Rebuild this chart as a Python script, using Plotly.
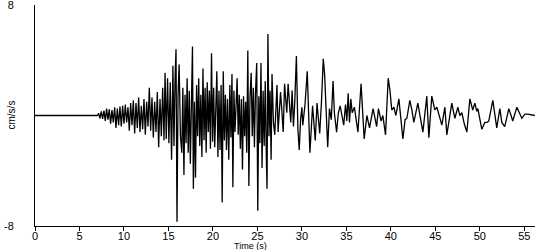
import plotly.graph_objects as go

# ---- data (time in s, acceleration in cm/s/s) ----
t_pre = [0, 7.0, 7.15, 7.3, 7.45, 7.6, 7.75, 7.9, 8.05, 8.2, 8.35, 8.5, 8.65, 8.8, 8.95, 9.1, 9.25, 9.4, 9.55, 9.7, 9.85, 10.0]
a_pre = [0, 0, 0.15, -0.2, 0.3, -0.25, 0.35, -0.4, 0.5, -0.3, 0.45, -0.6, 0.4, -0.5, 0.6, -0.9, 0.5, -0.7, 0.65, -0.8, 0.7, -0.6]

t_p = [10.15, 10.3, 10.45, 10.6, 10.75, 10.9, 11.05, 11.2, 11.35, 11.5, 11.65, 11.8, 11.95, 12.1, 12.25, 12.4, 12.55, 12.7, 12.85, 13.0]
a_p = [0.8, -0.5, 0.6, -1.1, 0.9, -0.7, 1.1, -1.3, 0.9, -0.9, 1.3, -1.2, 0.7, -1.0, 1.2, -1.4, 1.0, -0.8, 2.0, -1.1]

t_s1 = [13.15, 13.3, 13.45, 13.6, 13.75, 13.9, 14.05, 14.2, 14.35, 14.5, 14.62, 14.75, 14.9, 15.05, 15.2, 15.35, 15.5, 15.62, 15.74, 15.85, 15.96, 16.08, 16.2, 16.35, 16.5]
a_s1 = [1.3, -1.6, 1.0, -1.2, 1.7, -2.3, 1.2, -1.5, 2.0, -1.8, 3.1, -1.7, 2.7, -2.0, 2.4, -3.2, 3.6, -2.2, 2.6, 4.8, -7.7, 1.5, 3.7, -1.5, -2.7]

t_s2 = [16.62, 16.74, 16.86, 16.98, 17.1, 17.22, 17.34, 17.46, 17.58, 17.7, 17.8, 17.92, 18.04, 18.16, 18.28, 18.4, 18.52, 18.64, 18.76, 18.88,
        19.0, 19.12, 19.24, 19.36, 19.48, 19.6, 19.72, 19.84, 19.96, 20.08, 20.2, 20.32, 20.44, 20.56, 20.68, 20.8, 20.92, 21.04]
a_s2 = [2.0, -4.3, 1.5, -2.0, 2.7, -2.7, 1.8, -3.5, 3.0, 5.0, -5.3, 1.0, -4.5, 2.2, -1.5, 2.7, -2.2, 1.5, -3.0, 3.4,
        -1.8, 2.0, -2.7, 2.4, -1.2, 1.8, -2.4, 4.5, -1.9, 2.0, -2.3, 1.5, 3.2, -3.0, 1.8, -2.5, 2.2, -6.3]

t_s3 = [21.16, 21.28, 21.4, 21.52, 21.64, 21.78, 21.9, 22.02, 22.14, 22.24, 22.36, 22.48, 22.6, 22.72, 22.84, 22.96, 23.08, 23.2, 23.32, 23.44,
        23.56, 23.68, 23.8, 23.92, 24.04, 24.16, 24.3, 24.42, 24.54, 24.66, 24.78, 24.92, 25.04, 25.16, 25.28, 25.4, 25.52, 25.64, 25.76, 25.88,
        26.0, 26.08, 26.18, 26.3, 26.42, 26.54, 26.64]
a_s3 = [3.2, -1.8, 1.5, -2.5, 1.2, -3.2, 2.2, -1.6, 3.0, -5.2, 1.8, -1.2, 1.0, 2.7, -1.4, 1.5, -2.4, 1.2, -3.9, 1.4,
        -1.5, 1.0, -2.7, 4.7, -5.1, 1.2, 3.1, -1.5, 2.0, -2.3, 1.6, 3.8, -6.9, 1.4, -2.0, 3.8, -3.8, 1.8, -2.2, 2.5,
        -3.0, -5.3, 5.9, -1.5, 1.8, -3.2, 3.0]

t_s4 = [26.8, 26.95, 27.1, 27.2, 27.32, 27.45, 27.6, 27.75, 27.9, 28.05, 28.2, 28.3, 28.45, 28.6, 28.75, 28.9, 29.05, 29.2, 29.38, 29.55, 29.7, 29.85, 30.0]
a_s4 = [-0.5, -1.4, 0.8, 2.2, -1.2, 0.5, 1.7, 0.3, -1.2, 2.3, 0.8, 0.2, 2.3, 1.0, -0.5, 1.8, -0.8, 1.0, 4.3, -1.0, -2.5, -0.3, 0.6]

t_c1 = [30.1, 30.35, 30.6, 30.9, 31.2, 31.5, 31.7, 32.0, 32.2, 32.4, 32.55, 32.9, 33.1, 33.3, 33.5, 33.65, 33.9, 34.1, 34.3, 34.7,
        34.9, 35.05, 35.2, 35.35, 35.5, 35.65, 35.9, 36.3, 36.65, 37.0, 37.3, 37.6, 38.0, 38.4, 38.6, 38.9, 39.1, 39.4, 39.7, 39.9, 40.1]
a_c1 = [-0.7, 0.8, 3.2, -2.7, 0.7, -1.8, 0.9, -1.3, 1.0, 4.1, 3.0, -2.3, 0.5, -0.3, 2.5, 0.2, -1.2, 0.2, 0.7, -0.7,
        0.8, -0.4, 1.6, -0.5, 1.2, 0.2, 0.6, -1.2, 2.3, -1.7, 0.0, -0.9, 0.5, -0.8, 0.5, -0.4, 0.0, -1.4, 2.7, 1.8, 0.4]

t_c2 = [40.34, 40.56, 40.9, 41.35, 41.6, 41.8, 42.13, 42.36, 42.58, 43.03, 43.3, 43.6, 44.04, 44.27, 44.6, 44.94, 45.17, 45.45, 45.73, 46.07,
        46.29, 46.85, 47.19, 47.53, 47.75, 47.98, 48.25, 48.54, 48.88, 49.2, 49.44, 49.66, 49.78, 50.22, 50.56, 50.8, 51.0, 51.46, 51.9, 52.25,
        52.47, 52.8, 53.26, 53.7, 54.16, 54.72, 55.06, 55.39, 55.8, 56.18]
a_c2 = [0.6, 0.0, 1.2, -1.7, -0.3, -0.2, 1.1, 0.4, -0.5, 0.9, 0.0, -1.2, 1.4, -1.6, 1.4, 0.4, 0.6, 0.0, -0.7, 0.6,
        -1.4, 0.9, -0.2, 0.6, 0.0, 0.2, -0.6, -1.2, 1.2, 0.4, 0.9, 0.3, 0.5, -1.0, -0.5, -0.5, -0.4, 1.1, -0.9, 0.5,
        -0.5, -0.8, 0.5, -0.4, 0.6, -0.2, 0.1, 0.1, 0.05, 0.0]

x_ticks = [0, 5, 10, 15, 20, 25, 30, 35, 40, 45, 50, 55]
y_ticks = [8, -8]

segments = [(t_pre, a_pre), (t_p, a_p), (t_s1, a_s1), (t_s2, a_s2), (t_s3, a_s3),
            (t_s4, a_s4), (t_c1, a_c1), (t_c2, a_c2)]
time, acc = [], []
for ts, vs in segments:
    if len(ts) != len(vs):
        raise ValueError(f"length mismatch {len(ts)} vs {len(vs)} starting {ts[0]}")
    time += ts
    acc += vs

FONT = "Liberation Sans, Arial, sans-serif"

fig = go.Figure(go.Scatter(x=time, y=acc, mode="lines",
                           line=dict(color="black", width=1.3), hoverinfo="skip"))

fig.update_layout(
    width=550, height=250,
    margin=dict(l=35, r=15, t=5, b=24, autoexpand=False),
    paper_bgcolor="white", plot_bgcolor="white",
    showlegend=False,
    font=dict(family=FONT, size=11, color="black"),
    xaxis=dict(range=[0, 56.2], tickvals=x_ticks, ticktext=[str(v) for v in x_ticks],
               showline=True, linecolor="black", linewidth=1,
               ticks="outside", ticklen=4, tickcolor="black", tickwidth=1,
               ticklabelstandoff=-4, automargin=False,
               showgrid=False, zeroline=False, tickfont=dict(size=11, family=FONT)),
    yaxis=dict(range=[-8, 8], tickvals=y_ticks, ticktext=[str(v) for v in y_ticks],
               showline=True, linecolor="black", linewidth=1,
               ticks="", showgrid=False, zeroline=False, automargin=False,
               ticklabelstandoff=18, ticklabeloverflow="allow",
               tickfont=dict(size=11, family=FONT)),
    annotations=[
        dict(text="Time (s)", xref="paper", yref="paper", x=0.43, y=0,
             xanchor="center", yanchor="top", yshift=-14, borderpad=0, showarrow=False,
             font=dict(size=9, family=FONT)),
        dict(text="cm/s/s", xref="paper", yref="y", x=0, y=0,
             xanchor="center", yanchor="middle", xshift=-24, textangle=-90,
             showarrow=False, font=dict(size=10, family=FONT)),
    ],
)

fig.write_html("out.html")
